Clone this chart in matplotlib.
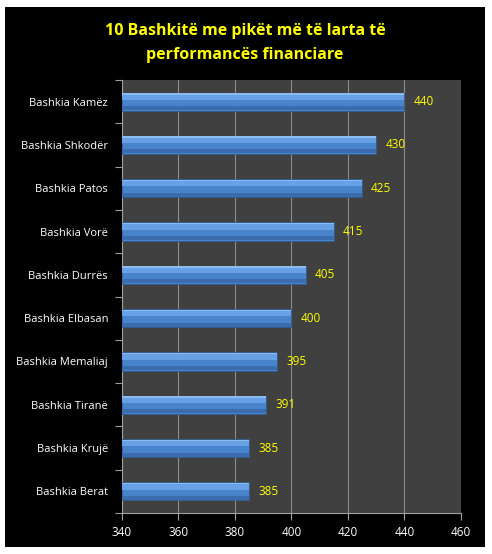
import matplotlib.pyplot as plt
from matplotlib.patches import Rectangle
import numpy as np

# data (top to bottom as in the chart)
names = ["Bashkia Kamëz", "Bashkia Shkodër", "Bashkia Patos", "Bashkia Vorë",
         "Bashkia Durrës", "Bashkia Elbasan", "Bashkia Memaliaj", "Bashkia Tiranë",
         "Bashkia Krujë", "Bashkia Berat"]
points = [440, 430, 425, 415, 405, 400, 395, 391, 385, 385]
xticks = [340, 360, 380, 400, 420, 440, 460]

plt.rcParams["font.family"] = ["Open Sans", "DejaVu Sans"]

fig = plt.figure(figsize=(4.92, 5.54), dpi=100, facecolor="white")
# black chart area with white margin
fig.patches.append(Rectangle((5 / 492, 7 / 554), 480 / 492, 540 / 554,
                             transform=fig.transFigure, facecolor="black",
                             edgecolor="none", zorder=-10))

ax = fig.add_axes([122 / 492, 41 / 554, 339 / 492, 433 / 554])
ax.set_zorder(5)
ax.set_facecolor("#404040")

y = np.arange(len(names))[::-1]
left = 340
widths = np.array(points) - left
h = 0.42

# bevelled blue bars: body, top highlight, bottom shade
ax.barh(y, widths, left=left, height=h, color="#4884cc", edgecolor="#2f5a90",
        linewidth=0.6, zorder=3)
ax.barh(y + h * 0.25, widths, left=left, height=h * 0.3, color="#67a0e4",
        edgecolor="none", zorder=4)
ax.barh(y + h * 0.43, widths, left=left, height=h * 0.08, color="#8cbcf0",
        edgecolor="none", zorder=4)
ax.barh(y - h * 0.36, widths, left=left, height=h * 0.22, color="#3b6cad",
        edgecolor="none", zorder=4)

for yi, v in zip(y, points):
    ax.text(v + 3.2, yi, str(v), color="yellow", va="center", ha="left",
            fontsize=8.5, zorder=5)

ax.set_xlim(340, 460)
ax.set_ylim(-0.5, len(names) - 0.5)
ax.set_xticks(xticks)
ax.set_xticklabels([str(t) for t in xticks], color="white", fontsize=8.5)
ax.set_yticks(y)
ax.set_yticklabels(names, color="white", fontsize=8)
ax.set_yticks(np.arange(len(names) + 1) - 0.5, minor=True)
ax.tick_params(axis="y", which="major", length=0, pad=10)
ax.tick_params(axis="y", which="minor", length=5, color="#a0a0a0", width=0.8)
ax.tick_params(axis="x", length=5, color="#a0a0a0", width=0.8, pad=4)
ax.xaxis.grid(True, color="#8c8c8c", linewidth=0.8, zorder=1)
ax.set_axisbelow(True)
for s in ["top", "right"]:
    ax.spines[s].set_visible(False)
for s in ["left", "bottom"]:
    ax.spines[s].set_color("#a0a0a0")
    ax.spines[s].set_linewidth(0.8)

fig.text(245 / 492, 1 - 43 / 554, "10 Bashkitë me pikët më të larta të\nperformancës financiare",
         color="yellow", fontsize=11.5, fontweight="bold", ha="center", va="center",
         linespacing=1.6)

fig.savefig("out.png", dpi=100, facecolor="white")
